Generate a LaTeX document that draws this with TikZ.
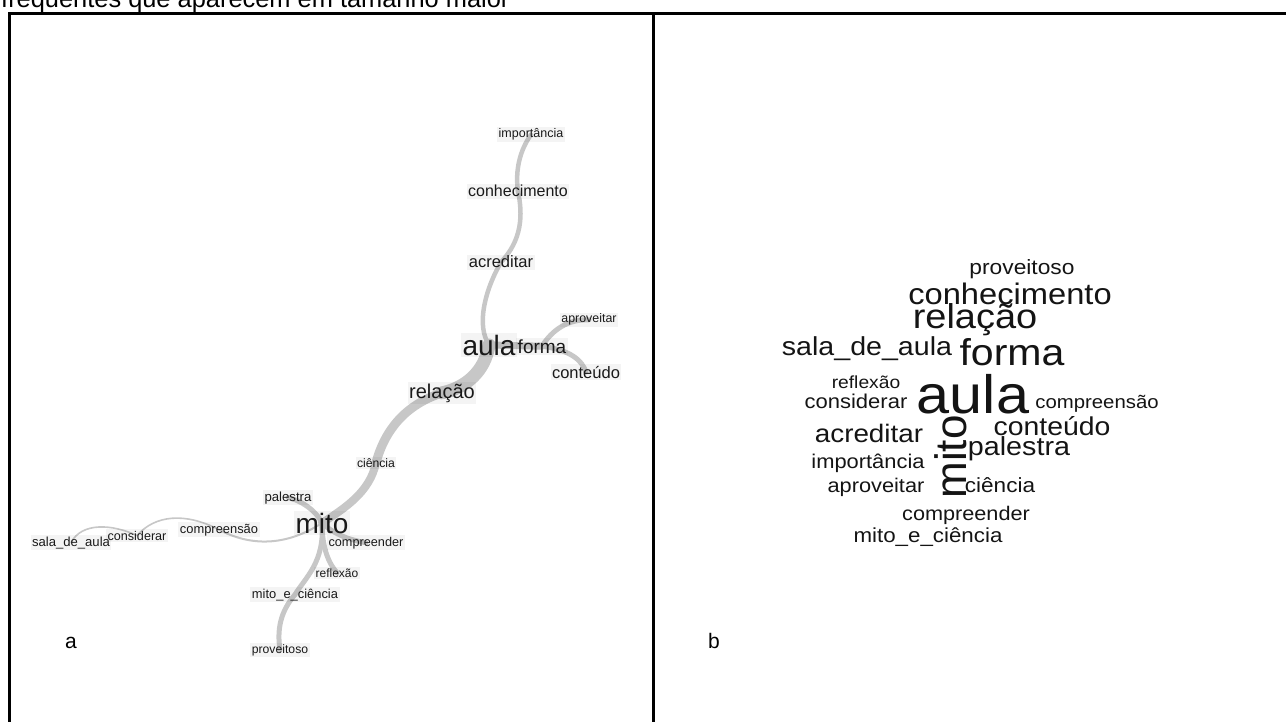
\documentclass[tikz,border=0pt]{standalone}
\usepackage{fontspec}
\setmainfont{Liberation Sans}
\pgfdeclarelayer{bg}
\pgfsetlayers{bg,main}
\tikzset{
  lbl/.style={font=\fontsize{#1}{#1}\selectfont, anchor=base, inner sep=1.5pt,
    fill=black, fill opacity=0.045, text opacity=1, text=black!90},
  wc/.style={font=\fontsize{#1}{#1}\selectfont, anchor=base, inner sep=0pt, text=black!92, xscale=1.1},
  wcr/.style={font=\fontsize{#1}{#1}\selectfont, anchor=base, inner sep=0pt, text=black!92, rotate=90},
  edge/.style={draw=black!22, line cap=round, line width=#1},
  frame/.style={line width=3pt, draw=black},
  panellbl/.style={font=\fontsize{21}{21}\selectfont, anchor=base, inner sep=0pt}
}
\begin{document}
\begin{tikzpicture}[x=1pt,y=-1pt]
\useasboundingbox (0,0) rectangle (1286,722);
% caption fragment
\node[font=\fontsize{25.4}{25.4}\selectfont, anchor=base west, inner sep=0pt] (cap) at (1,8) {frequentes que aparecem em tamanho maior};
% frame
\coordinate (fbl) at (9,735);
\coordinate (ftl) at (9,13.5);
\coordinate (ftr) at (1295,13.5);
\coordinate (fdt) at (653,13.5);
\coordinate (fdb) at (653,735);
\draw[frame] (fbl) -- (ftl) -- (ftr);
\draw[frame] (fdt) -- (fdb);

% ---------- panel a: graph ----------
\node[lbl=12.5] (imp) at (531,138) {importância};
\node[lbl=16] (con) at (518,197) {conhecimento};
\node[lbl=16.5] (acr) at (501,268) {acreditar};
\node[lbl=12.4] (apr) at (589,323) {aproveitar};
\node[lbl=28] (aula) at (489,355) {aula};
\node[lbl=19] (forma) at (542,353) {forma};
\node[lbl=16.5] (cont) at (586,378) {conteúdo};
\node[lbl=20] (rel) at (442,398) {relação};
\node[lbl=12.2] (cie) at (376,467) {ciência};
\node[lbl=13.2] (pal) at (288,501) {palestra};
\node[lbl=28] (mito) at (322,533) {mito};
\node[lbl=12.7] (cpd) at (366,546) {compreender};
\node[lbl=12] (refl) at (337,577) {reflexão};
\node[lbl=12.9] (mec) at (295,598) {mito\_e\_ciência};
\node[lbl=12.2] (prov) at (280,653) {proveitoso};
\node[lbl=12.9] (cps) at (219,533) {compreensão};
\node[lbl=12.6] (cons) at (137,540) {considerar};
\node[lbl=13.1] (sala) at (71,546) {sala\_de\_aula};
\node[panellbl] (la) at (71,648) {a};

\begin{pgfonlayer}{bg}
\draw[edge=4.5] (imp.center) .. controls (520,150) and (515,170) .. (con.center);
\draw[edge=4.5] (con.center) .. controls (523,215) and (522,240) .. (acr.center);
\draw[edge=4.5] (acr.center) .. controls (485,290) and (476,325) .. (aula.center);
\draw[edge=7] (aula.center) -- (forma.center);
\draw[edge=5] (forma.center) .. controls (552,330) and (568,319) .. (apr.center);
\draw[edge=5] (forma.center) .. controls (570,350) and (582,360) .. (cont.center);
\draw[edge=13] (aula.center) .. controls (485,372) and (465,388) .. (rel.center);
\draw[edge=9] (rel.center) .. controls (405,405) and (385,430) .. (cie.center);
\draw[edge=8] (cie.center) .. controls (370,492) and (345,508) .. (mito.center);
\draw[edge=5] (mito.center) .. controls (316,510) and (300,500) .. (pal.center);
\draw[edge=5] (mito.center) .. controls (335,535) and (350,540) .. (cpd.center);
\draw[edge=5] (mito.center) .. controls (322,550) and (330,565) .. (refl.center);
\draw[edge=5] (mito.center) .. controls (325,562) and (305,578) .. (mec.center);
\draw[edge=5] (mec.center) .. controls (280,612) and (277,630) .. (prov.center);
\draw[edge=2] (mito.center) .. controls (285,547) and (250,546) .. (cps.center);
\draw[edge=1.6] (cps.center) .. controls (185,512) and (155,515) .. (cons.center);
\draw[edge=1.6] (cons.center) .. controls (112,524) and (82,522) .. (sala.center);
\end{pgfonlayer}

% ---------- panel b: word cloud ----------
\node[panellbl] (lb) at (714,648) {b};
\node[wc=20.7] (w1) at (1022,275) {proveitoso};
\node[wc=29.7] (w2) at (1010,305) {conhecimento};
\node[wc=34.5] (w3) at (975,328) {relação};
\node[wc=26] (w4) at (867,355) {sala\_de\_aula};
\node[wc=37.3] (w5) at (1012,365) {forma};
\node[wc=17.5] (w6) at (866,388) {reflexão};
\node[wc=54] (w7) at (973,413) {aula};
\node[wc=20] (w8) at (856,408) {considerar};
\node[wc=18.5] (w9) at (1097,408) {compreensão};
\node[wc=25.3] (w10) at (869,442) {acreditar};
\node[wc=25.8] (w11) at (1052,435) {conteúdo};
\node[wcr=44] (w12) at (966,457) {mito};
\node[wc=26.1] (w13) at (1019,455) {palestra};
\node[wc=19.9] (w14) at (868,468) {importância};
\node[wc=19.8] (w15) at (876,492) {aproveitar};
\node[wc=20.5] (w16) at (1000,492) {ciência};
\node[wc=19.7] (w17) at (966,520) {compreender};
\node[wc=20.3] (w18) at (928,542) {mito\_e\_ciência};
\end{tikzpicture}
\end{document}
